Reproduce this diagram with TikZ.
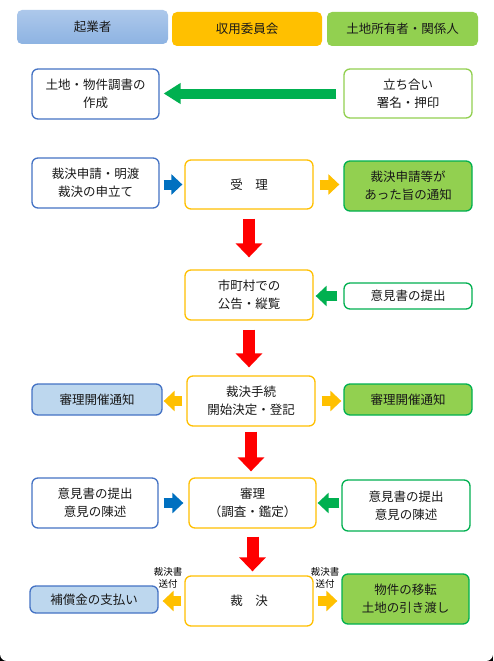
\documentclass[tikz,border=0pt]{standalone}
\usepackage{fontspec}
\setmainfont{Noto Sans CJK JP}
\usetikzlibrary{arrows.meta,calc}
\definecolor{cblue}{HTML}{4472C4}
\definecolor{lblue}{HTML}{BDD7EE}
\definecolor{corange}{HTML}{FFC000}
\definecolor{lgreen}{HTML}{92D050}
\definecolor{dgreen}{HTML}{00B050}
\definecolor{abblue}{HTML}{0070C0}
\definecolor{cred}{HTML}{FF0000}
\definecolor{htop}{HTML}{ADC8EB}
\definecolor{hbot}{HTML}{8DB3E2}
\tikzset{
  box/.style={line width=1.3pt, rounded corners=6pt, align=center, inner sep=0pt,
    font=\fontsize{12.5}{18}\selectfont, text=black!90},
  sz/.style 2 args={minimum width=#1pt, minimum height=#2pt},
  hdr/.style={box, draw=none, rounded corners=5pt},
  bluebox/.style={box, draw=cblue, fill=white},
  orbox/.style={box, draw=corange, fill=white},
  grbox/.style={box, draw=dgreen, fill=white},
  grfill/.style={box, draw=dgreen, fill=lgreen},
  lbfill/.style={box, draw=cblue, fill=lblue},
  small/.style={align=center, inner sep=0pt, font=\fontsize{9.5}{12}\selectfont},
  sarr/.style={line width=10pt, -{Triangle[width=20pt,length=11pt]}},
  barr/.style={sarr, draw=abblue},
  oarr/.style={sarr, draw=corange},
  garr/.style={sarr, draw=dgreen},
  rarr/.style={line width=12pt, draw=cred, -{Triangle[width=26pt,length=14pt]}},
  bigarr/.style={line width=10pt, draw=dgreen, -{Triangle[width=20pt,length=17pt]}},
}
\begin{document}
\begin{tikzpicture}[x=1pt,y=-1pt]
\useasboundingbox (0,0) rectangle (493,661);
\fill[black] (0,645) rectangle (493,661);
\fill[white, rounded corners=7pt] (0,-10) rectangle (493,661);
% headers
\node[hdr, sz={151}{34}, top color=htop, bottom color=hbot] (h1) at (92.5,27) {起業者};
\node[hdr, sz={150}{34}, fill=corange] (h2) at (247,29) {収用委員会};
\node[hdr, sz={151}{34}, fill=lgreen] (h3) at (402.5,29) {土地所有者・関係人};
% row 1
\node[bluebox, sz={127}{50}] (a1) at (95.5,94) {土地・物件調書の\\作成};
\node[box, draw=lgreen, fill=white, sz={128}{49}] (c1) at (408,93.5) {立ち合い\\署名・押印};
% row 2
\node[bluebox, sz={127}{50}] (a2) at (95.5,183) {裁決申請・明渡\\裁決の申立て};
\node[orbox, sz={128}{49}] (m2) at (249,184.5) {受　理};
\node[grfill, sz={128}{50}] (c2) at (408,186) {裁決申請等が\\あった旨の通知};
% row 3
\node[orbox, sz={128}{50}] (m3) at (249,295) {市町村での\\公告・縦覧};
\node[grbox, sz={128}{26}] (c3) at (408,296) {意見書の提出};
% row 4
\node[lbfill, sz={130}{31}] (a4) at (97,399.5) {審理開催通知};
\node[orbox, sz={128}{50}] (m4) at (251,401) {裁決手続\\開始決定・登記};
\node[grfill, sz={128}{31}] (c4) at (408,399.5) {審理開催通知};
% row 5
\node[bluebox, sz={126}{50}] (a5) at (95,503) {意見書の提出\\意見の陳述};
\node[orbox, sz={127}{50}] (m5) at (252.5,503) {審理\\（調査・鑑定）};
\node[grbox, sz={128}{51}] (c5) at (406,505.5) {意見書の提出\\意見の陳述};
% row 6
\node[lbfill, sz={128}{27}] (a6) at (94,599.5) {補償金の支払い};
\node[orbox, sz={128}{50}] (m6) at (249,601) {裁　決};
\node[grfill, sz={127}{50}] (c6) at (405.5,599) {物件の移転\\土地の引き渡し};
\node[small] (l1) at (168,578) {裁決書\\送付};
\node[small] (l2) at (325,578) {裁決書\\送付};
% arrows
\draw[bigarr, shorten <=7pt, shorten >=4pt] (c1.west) -- (c1.west -| a1.east);
\draw[barr, shorten <=4pt, shorten >=2pt] (a2.east |- m2.west) -- (m2.west);
\draw[oarr, shorten <=6pt, shorten >=4pt] (m2.east) -- (m2.east -| c2.west);
\draw[garr, shorten <=6pt, shorten >=2pt] (c3.west) -- (c3.west -| m3.east);
\draw[oarr, shorten <=4pt, shorten >=1pt] (m4.west) -- (m4.west -| a4.east);
\draw[oarr, shorten <=6pt, shorten >=2pt] (m4.east) -- (m4.east -| c4.west);
\draw[barr, shorten <=5pt, shorten >=5pt] (a5.east) -- (a5.east -| m5.west);
\draw[garr, shorten <=2pt, shorten >=1pt] (c5.west |- m5.east) -- (m5.east);
\draw[oarr, shorten <=3pt, shorten >=4pt] (m6.west) -- (m6.west -| a6.east);
\draw[oarr, shorten <=4pt, shorten >=4pt] (m6.east) -- (m6.east -| c6.west);
\draw[rarr, shorten <=9pt, shorten >=12pt] (m2.south) -- (m2.south |- m3.north);
\draw[rarr, shorten <=9pt, shorten >=8pt] (m3.south) -- (m3.south |- m4.north);
\draw[rarr, shorten <=5pt, shorten >=6pt] (m4.south) -- (m4.south |- m5.north);
\draw[rarr, shorten <=8pt, shorten >=4pt] (m5.south) -- (m5.south |- m6.north);
\end{tikzpicture}
\end{document}
